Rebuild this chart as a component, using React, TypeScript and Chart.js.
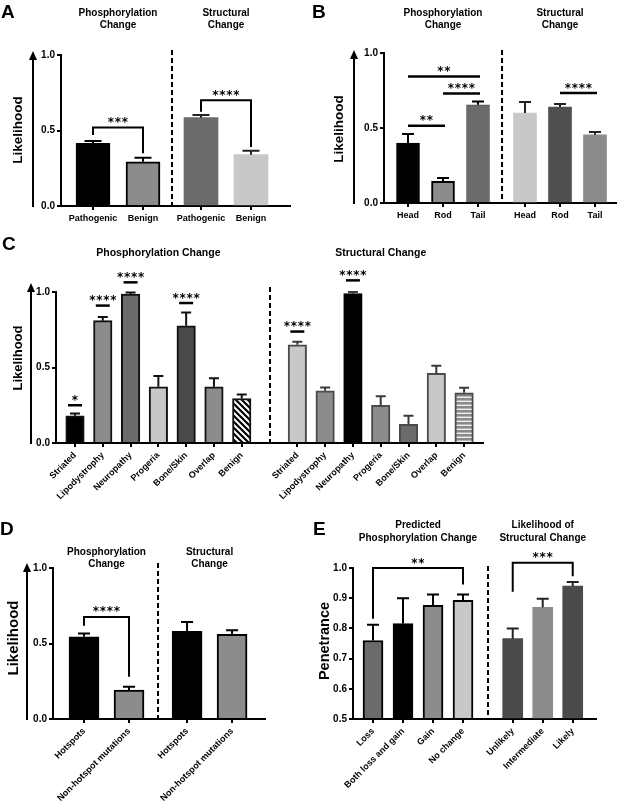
import { useEffect, useRef } from 'react';
import { Chart, registerables } from 'chart.js';

Chart.register(...registerables);

const FONT = '"Liberation Sans", Arial, sans-serif';
const STAR_FONT = '"DejaVu Sans", sans-serif';

// ---------------- Panel A ----------------
const aCategories = ['Pathogenic', 'Benign'];
const aPhosphoValues = [0.415, 0.293];
const aPhosphoErrors = [0.015, 0.027];
const aStructValues = [0.585, 0.34];
const aStructErrors = [0.018, 0.026];
const likelihoodTicks = [0, 0.5, 1.0];
const aSignificance = [
  { from: 0, to: 1, y: 0.52, legs: [0.47, 0.35], stars: '***' },
  { from: 2, to: 3, y: 0.7, legs: [0.625, 0.39], stars: '****' },
];

// ---------------- Panel B ----------------
const bCategories = ['Head', 'Rod', 'Tail'];
const bPhosphoValues = [0.4, 0.144, 0.655];
const bPhosphoErrors = [0.06, 0.023, 0.022];
const bStructValues = [0.6, 0.64, 0.455];
const bStructErrors = [0.073, 0.02, 0.018];
const bSignificance = [
  { from: 0, to: 2, y: 0.843, stars: '**' },
  { from: 1, to: 2, y: 0.73, stars: '****' },
  { from: 0, to: 1, y: 0.515, stars: '**' },
  { from: 4, to: 5, y: 0.733, stars: '****' },
];

// ---------------- Panel C ----------------
const cCategories = ['Striated', 'Lipodystrophy', 'Neuropathy', 'Progeria', 'Bone/Skin', 'Overlap', 'Benign'];
const cPhosphoValues = [0.18, 0.81, 0.987, 0.372, 0.776, 0.372, 0.295];
const cPhosphoErrors = [0.015, 0.024, 0.01, 0.071, 0.088, 0.056, 0.027];
const cStructValues = [0.65, 0.346, 0.989, 0.25, 0.124, 0.461, 0.333];
const cStructErrors = [0.02, 0.022, 0.011, 0.06, 0.056, 0.051, 0.033];
const cSignificance = [
  { from: 0, to: 0, y: 0.25, stars: '*' },
  { from: 1, to: 1, y: 0.91, stars: '****' },
  { from: 2, to: 2, y: 1.064, stars: '****' },
  { from: 4, to: 4, y: 0.927, stars: '****' },
  { from: 7, to: 7, y: 0.738, stars: '****' },
  { from: 9, to: 9, y: 1.077, stars: '****' },
];

// ---------------- Panel D ----------------
const dCategories = ['Hotspots', 'Non-hotspot mutations'];
const dPhosphoValues = [0.544, 0.192];
const dPhosphoErrors = [0.022, 0.021];
const dStructValues = [0.58, 0.56];
const dStructErrors = [0.063, 0.028];
const dSignificance = [{ from: 0, to: 1, y: 0.676, legs: [0.617, 0.28], stars: '****' }];

// ---------------- Panel E ----------------
const ePhosphoCategories = ['Loss', 'Both loss and gain', 'Gain', 'No change'];
const ePhosphoValues = [0.76, 0.816, 0.876, 0.893];
const ePhosphoErrors = [0.052, 0.084, 0.036, 0.019];
const eStructCategories = ['Unlikely', 'Intermediate', 'Likely'];
const eStructValues = [0.766, 0.87, 0.94];
const eStructErrors = [0.034, 0.028, 0.014];
const penetranceTicks = [0.5, 0.6, 0.7, 0.8, 0.9, 1.0];
const eSignificance = [
  { from: 0, to: 3, y: 1.0, legs: [0.832, 0.945], stars: '**' },
  { from: 4, to: 6, y: 1.017, legs: [0.921, 0.973], stars: '***' },
];

// ---------------- styles / layout ----------------
const BLACK = '#000000';
const DARK = '#4a4a4a';
const MIDDARK = '#6b6b6b';
const MID = '#8c8c8c';
const LIGHT = '#c8c8c8';

type Group = {
  title: string[];
  labels: string[];
  values: number[];
  errors: number[];
  fills: string[];
  borders: string[];
  borderWidths: number[];
  errColor: string;
};

type Spec = {
  key: string;
  left: number; top: number; w: number; h: number;
  area: { l: number; t: number; r: number; b: number };
  xMin: number; xMax: number; groupGap: number;
  yMin: number; yMax: number; yTicks: number[];
  barThickness: number; cap: number;
  groups: Group[];
  sigs: any[]; sigStyle: 'bracket' | 'line' | 'short';
  rotation: number;
  letter: string; letterX: number; letterY: number;
  titleYs: number[]; titleSize: number;
  yTitle: string; yTitleX: number; yTitleY: number; yTitleSize: number;
  arrow: null | { x: number; tip: number };
  dividerTop: number;
};

const specs: Spec[] = [
  {
    key: 'A', left: 0, top: 0, w: 305, h: 232,
    area: { l: 61, t: 55, r: 290, b: 206 },
    xMin: -0.64, xMax: 3.94, groupGap: 0.16,
    yMin: 0, yMax: 1, yTicks: likelihoodTicks,
    barThickness: 34, cap: 8.5,
    groups: [
      { title: ['Phosphorylation', 'Change'], labels: aCategories, values: aPhosphoValues, errors: aPhosphoErrors,
        fills: [BLACK, MID], borders: [BLACK, BLACK], borderWidths: [2, 2], errColor: BLACK },
      { title: ['Structural', 'Change'], labels: aCategories, values: aStructValues, errors: aStructErrors,
        fills: [MIDDARK, LIGHT], borders: [MIDDARK, LIGHT], borderWidths: [0, 0], errColor: '#222' },
    ],
    sigs: aSignificance, sigStyle: 'bracket', rotation: 0,
    letter: 'A', letterX: 1, letterY: 18,
    titleYs: [13, 25], titleSize: 10,
    yTitle: 'Likelihood', yTitleX: 18, yTitleY: 130, yTitleSize: 13.5,
    arrow: { x: 33, tip: 51 }, dividerTop: 50,
  },
  {
    key: 'B', left: 311, top: 0, w: 311, h: 232,
    area: { l: 73, t: 53, r: 305, b: 203 },
    xMin: -0.686, xMax: 5.943, groupGap: 0.343,
    yMin: 0, yMax: 1, yTicks: likelihoodTicks,
    barThickness: 23, cap: 6,
    groups: [
      { title: ['Phosphorylation', 'Change'], labels: bCategories, values: bPhosphoValues, errors: bPhosphoErrors,
        fills: [BLACK, MID, MIDDARK], borders: [BLACK, BLACK, '#555'], borderWidths: [2, 2, 1], errColor: BLACK },
      { title: ['Structural', 'Change'], labels: bCategories, values: bStructValues, errors: bStructErrors,
        fills: [LIGHT, '#4f4f4f', MID], borders: [LIGHT, '#4f4f4f', MID], borderWidths: [0, 0, 0], errColor: '#222' },
    ],
    sigs: bSignificance, sigStyle: 'line', rotation: 0,
    letter: 'B', letterX: 1, letterY: 18,
    titleYs: [13, 25], titleSize: 10,
    yTitle: 'Likelihood', yTitleX: 28, yTitleY: 129, yTitleSize: 13.5,
    arrow: { x: 43, tip: 50 }, dividerTop: 50,
  },
  {
    key: 'C', left: 0, top: 230, w: 622, h: 275,
    area: { l: 56, t: 62, r: 483, b: 213 },
    xMin: -0.683, xMax: 14.68, groupGap: 1,
    yMin: 0, yMax: 1, yTicks: likelihoodTicks,
    barThickness: 18.5, cap: 5,
    groups: [
      { title: ['Phosphorylation Change'], labels: cCategories, values: cPhosphoValues, errors: cPhosphoErrors,
        fills: [BLACK, MID, MIDDARK, LIGHT, DARK, MID, 'DIAG'], borders: Array(7).fill('#111'), borderWidths: Array(7).fill(2), errColor: '#111' },
      { title: ['Structural Change'], labels: cCategories, values: cStructValues, errors: cStructErrors,
        fills: [LIGHT, MID, BLACK, MID, MIDDARK, LIGHT, 'HSTRIPE'], borders: [DARK, DARK, BLACK, DARK, DARK, DARK, DARK], borderWidths: Array(7).fill(2), errColor: '#3a3a3a' },
    ],
    sigs: cSignificance, sigStyle: 'short', rotation: 45,
    letter: 'C', letterX: 2, letterY: 20,
    titleYs: [23], titleSize: 10.5,
    yTitle: 'Likelihood', yTitleX: 18.5, yTitleY: 128, yTitleSize: 13,
    arrow: { x: 31, tip: 53 }, dividerTop: 57,
  },
  {
    key: 'D', left: 0, top: 505, w: 311, h: 302,
    area: { l: 53, t: 63, r: 265, b: 214 },
    xMin: -0.689, xMax: 4.022, groupGap: 0.29,
    yMin: 0, yMax: 1, yTicks: likelihoodTicks,
    barThickness: 30, cap: 6,
    groups: [
      { title: ['Phosphorylation', 'Change'], labels: dCategories, values: dPhosphoValues, errors: dPhosphoErrors,
        fills: [BLACK, MID], borders: [BLACK, BLACK], borderWidths: [2, 2], errColor: BLACK },
      { title: ['Structural', 'Change'], labels: dCategories, values: dStructValues, errors: dStructErrors,
        fills: [BLACK, MID], borders: [BLACK, BLACK], borderWidths: [2, 2], errColor: BLACK },
    ],
    sigs: dSignificance, sigStyle: 'bracket', rotation: 45,
    letter: 'D', letterX: 0, letterY: 30,
    titleYs: [47, 59], titleSize: 10,
    yTitle: 'Likelihood', yTitleX: 14, yTitleY: 133, yTitleSize: 15,
    arrow: { x: 27, tip: 58 }, dividerTop: 58,
  },
  {
    key: 'E', left: 311, top: 505, w: 311, h: 302,
    area: { l: 42, t: 63, r: 285, b: 214 },
    xMin: -0.667, xMax: 7.433, groupGap: 0.657,
    yMin: 0.5, yMax: 1, yTicks: penetranceTicks,
    barThickness: 20, cap: 6,
    groups: [
      { title: ['Predicted', 'Phosphorylation Change'], labels: ePhosphoCategories, values: ePhosphoValues, errors: ePhosphoErrors,
        fills: [MIDDARK, BLACK, MID, LIGHT], borders: Array(4).fill(BLACK), borderWidths: Array(4).fill(2), errColor: BLACK },
      { title: ['Likelihood of', 'Structural Change'], labels: eStructCategories, values: eStructValues, errors: eStructErrors,
        fills: [DARK, MID, DARK], borders: [DARK, MID, DARK], borderWidths: [0, 0, 0], errColor: '#222' },
    ],
    sigs: eSignificance, sigStyle: 'bracket', rotation: 45,
    letter: 'E', letterX: 2, letterY: 30,
    titleYs: [20, 33], titleSize: 10,
    yTitle: 'Penetrance', yTitleX: 13.5, yTitleY: 136, yTitleSize: 14.5,
    arrow: null, dividerTop: 61,
  },
];

function makePattern(ctx: CanvasRenderingContext2D, kind: string): any {
  const c = document.createElement('canvas');
  if (kind === 'DIAG') {
    c.width = 6; c.height = 6;
    const g = c.getContext('2d')!;
    g.fillStyle = '#ffffff';
    g.fillRect(0, 0, 6, 6);
    g.strokeStyle = '#000000';
    g.lineWidth = 2.2;
    g.beginPath();
    g.moveTo(-1, -1); g.lineTo(7, 7);
    g.moveTo(5, -1); g.lineTo(13, 7);
    g.moveTo(-7, -1); g.lineTo(1, 7);
    g.stroke();
  } else {
    c.width = 4; c.height = 4;
    const g = c.getContext('2d')!;
    g.fillStyle = '#8a8a8a';
    g.fillRect(0, 0, 4, 4);
    g.fillStyle = '#eeeeee';
    g.fillRect(0, 2.6, 4, 1.4);
  }
  return ctx.createPattern(c, 'repeat');
}

function drawStars(ctx: CanvasRenderingContext2D, cx: number, cy: number, stars: string) {
  ctx.font = `bold 12px ${STAR_FONT}`;
  ctx.textAlign = 'center';
  ctx.textBaseline = 'alphabetic';
  ctx.fillStyle = '#000';
  const m = ctx.measureText('*');
  const off = (m.actualBoundingBoxDescent - m.actualBoundingBoxAscent) / 2;
  const n = stars.length;
  const pitch = 7;
  for (let k = 0; k < n; k++) {
    ctx.fillText(stars[k], cx + (k - (n - 1) / 2) * pitch, cy - off);
  }
}

function buildConfig(spec: Spec, ctx: CanvasRenderingContext2D): any {
  const pos: number[] = [];
  const labels: string[] = [];
  const vals: number[] = [];
  const errs: number[] = [];
  const bg: any[] = [];
  const bc: string[] = [];
  const bw: number[] = [];
  const ec: string[] = [];
  const ranges: [number, number][] = [];
  let start = 0;
  spec.groups.forEach((g) => {
    const s0 = pos.length;
    g.labels.forEach((l, i) => {
      pos.push(start + i);
      labels.push(l);
      vals.push(g.values[i]);
      errs.push(g.errors[i]);
      const f = g.fills[i];
      bg.push(f === 'DIAG' || f === 'HSTRIPE' ? makePattern(ctx, f) : f);
      bc.push(g.borders[i]);
      bw.push(g.borderWidths[i]);
      ec.push(g.errColor);
    });
    ranges.push([s0, pos.length - 1]);
    start += g.labels.length + spec.groupGap;
  });
  const dividerX = (pos[ranges[0][1]] + pos[ranges[1][0]]) / 2;

  const decor = {
    id: 'decor',
    afterDatasetsDraw(chart: any) {
      const c = chart.ctx;
      const xs = chart.scales.x;
      const ys = chart.scales.y;
      c.save();
      c.lineWidth = 2;
      c.lineCap = 'butt';
      pos.forEach((p, i) => {
        const x = xs.getPixelForValue(p);
        const y1 = ys.getPixelForValue(vals[i]);
        const y2 = ys.getPixelForValue(vals[i] + errs[i]);
        c.strokeStyle = ec[i];
        c.beginPath();
        c.moveTo(x, y1);
        c.lineTo(x, y2);
        c.moveTo(x - spec.cap, y2);
        c.lineTo(x + spec.cap, y2);
        c.stroke();
      });
      c.restore();
    },
    afterDraw(chart: any) {
      const c = chart.ctx;
      const xs = chart.scales.x;
      const ys = chart.scales.y;
      const area = chart.chartArea;
      c.save();
      // divider
      const dx = Math.round(xs.getPixelForValue(dividerX));
      c.strokeStyle = '#000';
      c.lineWidth = 2;
      c.setLineDash([5, 3]);
      c.beginPath();
      c.moveTo(dx, spec.dividerTop);
      c.lineTo(dx, area.bottom);
      c.stroke();
      c.setLineDash([]);
      // arrow
      if (spec.arrow) {
        const ax = spec.arrow.x;
        const tip = spec.arrow.tip;
        c.beginPath();
        c.moveTo(ax, area.bottom + 1);
        c.lineTo(ax, tip + 6);
        c.stroke();
        c.fillStyle = '#000';
        c.beginPath();
        c.moveTo(ax, tip);
        c.lineTo(ax - 4, tip + 9);
        c.lineTo(ax + 4, tip + 9);
        c.closePath();
        c.fill();
      }
      // significance
      spec.sigs.forEach((s: any) => {
        const xl = xs.getPixelForValue(pos[s.from]);
        const xr = xs.getPixelForValue(pos[s.to]);
        const y = ys.getPixelForValue(s.y);
        c.strokeStyle = '#000';
        c.lineJoin = 'miter';
        let cx = (xl + xr) / 2;
        if (spec.sigStyle === 'bracket') {
          c.lineWidth = 2;
          c.beginPath();
          c.moveTo(xl, ys.getPixelForValue(s.legs[0]));
          c.lineTo(xl, y);
          c.lineTo(xr, y);
          c.lineTo(xr, ys.getPixelForValue(s.legs[1]));
          c.stroke();
        } else if (spec.sigStyle === 'line') {
          c.lineWidth = 2.5;
          c.beginPath();
          c.moveTo(xl, y);
          c.lineTo(xr + 2, y);
          c.stroke();
          cx += 1;
        } else {
          c.lineWidth = 2.5;
          c.beginPath();
          c.moveTo(xl - 7, y);
          c.lineTo(xl + 7, y);
          c.stroke();
        }
        drawStars(c, cx, y - 7.5, s.stars);
      });
      // group titles
      c.fillStyle = '#000';
      c.font = `bold ${spec.titleSize}px ${FONT}`;
      c.textAlign = 'center';
      c.textBaseline = 'middle';
      spec.groups.forEach((g, gi) => {
        const [a, b] = ranges[gi];
        const cx = (xs.getPixelForValue(pos[a]) + xs.getPixelForValue(pos[b])) / 2;
        g.title.forEach((line, li) => c.fillText(line, cx, spec.titleYs[li]));
      });
      // panel letter
      c.font = `bold 19px ${FONT}`;
      c.textAlign = 'left';
      c.textBaseline = 'alphabetic';
      c.fillText(spec.letter, spec.letterX, spec.letterY);
      // y title
      c.translate(spec.yTitleX, spec.yTitleY);
      c.rotate(-Math.PI / 2);
      c.font = `bold ${spec.yTitleSize}px ${FONT}`;
      c.textAlign = 'center';
      c.textBaseline = 'middle';
      c.fillText(spec.yTitle, 0, 0);
      c.restore();
    },
  };

  const rot = spec.rotation;
  return {
    type: 'bar',
    data: {
      datasets: [
        {
          data: pos.map((x, i) => ({ x, y: vals[i] })),
          backgroundColor: bg,
          borderColor: bc,
          borderWidth: bw,
          barThickness: spec.barThickness,
          base: spec.yMin,
        },
      ],
    },
    options: {
      animation: false,
      responsive: false,
      maintainAspectRatio: false,
      devicePixelRatio: 1,
      events: [],
      layout: { padding: { left: 0, top: spec.area.t, right: spec.w - spec.area.r, bottom: 0 } },
      plugins: { legend: { display: false }, tooltip: { enabled: false }, title: { display: false } },
      scales: {
        x: {
          type: 'linear',
          min: spec.xMin,
          max: spec.xMax,
          offset: false,
          grid: { display: true, drawOnChartArea: false, drawTicks: true, tickLength: 4, color: '#000', lineWidth: 2, offset: false },
          border: { display: true, color: '#000', width: 2 },
          ticks: {
            autoSkip: false,
            maxRotation: rot,
            minRotation: rot,
            padding: 3,
            color: '#000',
            font: { family: FONT, size: 9, weight: 'bold' },
            callback: (_v: any, i: number) => labels[i],
          },
          afterBuildTicks: (s: any) => {
            s.ticks = pos.map((v) => ({ value: v }));
          },
          afterFit: (s: any) => {
            s.height = spec.h - spec.area.b;
          },
        },
        y: {
          type: 'linear',
          min: spec.yMin,
          max: spec.yMax,
          beginAtZero: false,
          grid: { display: true, drawOnChartArea: false, drawTicks: true, tickLength: 4, color: '#000', lineWidth: 2 },
          border: { display: true, color: '#000', width: 2 },
          ticks: {
            padding: 2,
            color: '#000',
            font: { family: FONT, size: 10, weight: 'bold' },
            callback: (v: any) => Number(v).toFixed(1),
          },
          afterBuildTicks: (s: any) => {
            s.ticks = spec.yTicks.map((v) => ({ value: v }));
          },
          afterFit: (s: any) => {
            s.width = spec.area.l;
          },
        },
      },
    },
    plugins: [decor],
  };
}

function Panel({ spec }: { spec: Spec }) {
  const ref = useRef<HTMLCanvasElement>(null);
  useEffect(() => {
    const canvas = ref.current!;
    const ctx = canvas.getContext('2d')!;
    const chart = new Chart(ctx, buildConfig(spec, ctx));
    return () => chart.destroy();
  }, [spec]);
  return (
    <canvas
      ref={ref}
      width={spec.w}
      height={spec.h}
      style={{ position: 'absolute', left: spec.left, top: spec.top, width: spec.w, height: spec.h }}
    />
  );
}

export default function App() {
  return (
    <div style={{ position: 'absolute', left: 0, top: 0, width: 622, height: 807, background: '#fff', overflow: 'hidden' }}>
      {specs.map((s) => (
        <Panel key={s.key} spec={s} />
      ))}
    </div>
  );
}
